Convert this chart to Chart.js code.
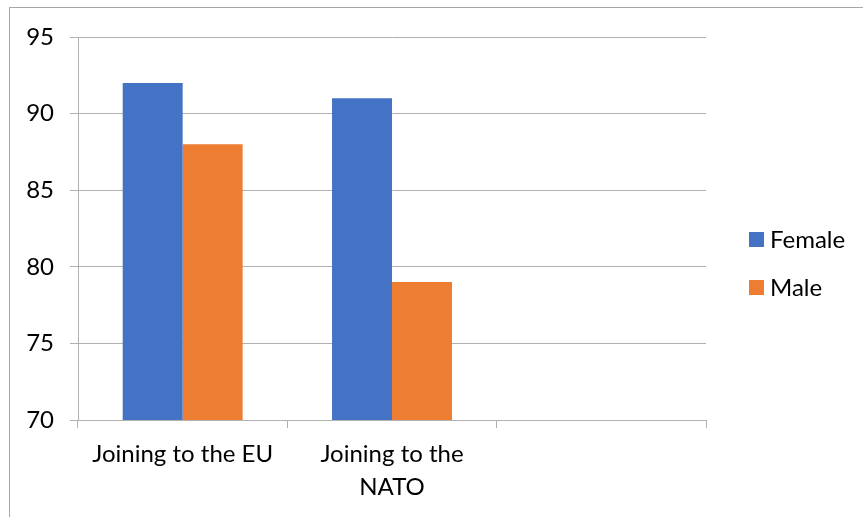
<!DOCTYPE html>
<html>
<head>
<meta charset="utf-8">
<script src="https://cdn.jsdelivr.net/npm/chart.js@4"></script>
<style>
  html, body { margin: 0; padding: 0; background: #fff; }
  #wrap { position: relative; width: 863px; height: 517px; }
</style>
</head>
<body>
<div id="wrap"><canvas id="bar-chart"></canvas></div>
<script>
// data
const categories = ["Joining to the EU", ["Joining to the", "NATO"], ""];
const seriesNames = ["Female", "Male"];
const femaleValues = [92, 91, null];
const maleValues = [88, 79, null];
const yTicks = [70, 75, 80, 85, 90, 95];
const seriesColors = ["#4472C4", "#ED7D31"];

const FONT = "Lato";
const gridColor = "#b0b0b0";

// outer frame of the chart object
const framePlugin = {
  id: "frame",
  afterDraw(chart) {
    const ctx = chart.ctx;
    ctx.save();
    ctx.strokeStyle = "#a6a6a6";
    ctx.lineWidth = 1;
    ctx.strokeRect(9.5, 7.5, 900, 600);
    ctx.restore();
  },
};

// simple legend on the right, like the office style one
const sideLegend = {
  id: "sideLegend",
  afterDraw(chart) {
    const ctx = chart.ctx;
    ctx.save();
    ctx.font = `24px ${FONT}`;
    ctx.textBaseline = "middle";
    chart.data.datasets.forEach((ds, i) => {
      const y = 239.5 + i * 48;
      ctx.fillStyle = ds.backgroundColor;
      ctx.fillRect(749, y - 7.5, 15, 15);
      ctx.fillStyle = "#000";
      ctx.fillText(ds.label, 770, y + 1);
    });
    ctx.restore();
  },
};

const ctx = document.getElementById("bar-chart").getContext("2d");
new Chart(ctx, {
  type: "bar",
  data: {
    labels: categories,
    datasets: [
      { label: seriesNames[0], data: femaleValues, backgroundColor: seriesColors[0] },
      { label: seriesNames[1], data: maleValues, backgroundColor: seriesColors[1] },
    ],
  },
  options: {
    responsive: true,
    maintainAspectRatio: false,
    animation: false,
    barPercentage: 1,
    categoryPercentage: 0.573,
    layout: { padding: { left: 8, top: 37, right: 157, bottom: 17 } },
    plugins: {
      legend: { display: false },
      tooltip: { enabled: false },
    },
    scales: {
      x: {
        offset: true,
        afterFit: (s) => { s.height = 80; },
        border: { color: gridColor, width: 1 },
        grid: {
          display: true,
          offset: true,
          drawOnChartArea: false,
          tickLength: 8,
          color: gridColor,
        },
        ticks: {
          color: "#000",
          padding: 10,
          maxRotation: 0,
          autoSkip: false,
          font: { family: FONT, size: 24, lineHeight: "33px" },
        },
      },
      y: {
        min: 70,
        max: 95,
        afterFit: (s) => { s.width = 70; },
        afterBuildTicks: (s) => { s.ticks = yTicks.map((v) => ({ value: v })); },
        border: { color: gridColor, width: 1 },
        grid: { color: gridColor, lineWidth: 1, tickLength: 8 },
        ticks: {
          color: "#000",
          padding: 16,
          font: { family: FONT, size: 24 },
        },
      },
    },
  },
  plugins: [framePlugin, sideLegend],
});
</script>
</body>
</html>
